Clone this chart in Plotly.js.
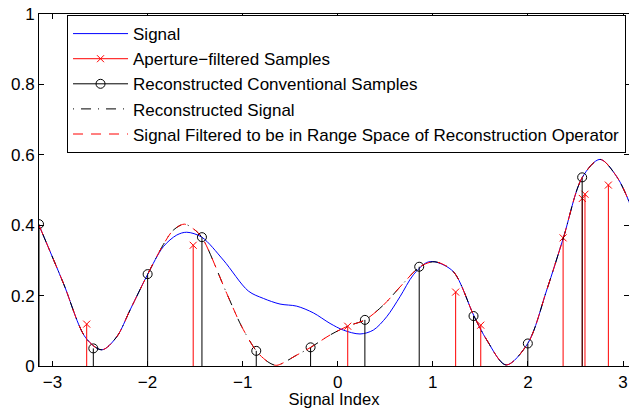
<!DOCTYPE html>
<html>
<head>
<meta charset="utf-8">
<script src="https://cdn.plot.ly/plotly-3.0.1.min.js"></script>
<style>html,body{margin:0;padding:0;background:#fff;}#chart{width:629px;height:408px;}</style>
</head>
<body>
<div id="chart"></div>
<script>
// Signal (blue)
var signalX = [-3.1416, -2.885, -2.65, -2.48, -2.324, -2.184, -2.0, -1.834, -1.693, -1.588, -1.43, -1.203, -0.94, -0.782, -0.607, -0.431, -0.257, -0.081, 0.059, 0.234, 0.374, 0.515, 0.655, 0.795, 0.936, 1.023, 1.216, 1.433, 1.567, 1.77, 1.998, 2.198, 2.372, 2.572, 2.758, 2.934, 3.063, 3.1416];
var signalY = [0.400, 0.235, 0.080, 0.046, 0.083, 0.159, 0.260, 0.339, 0.372, 0.380, 0.366, 0.301, 0.213, 0.192, 0.176, 0.170, 0.151, 0.121, 0.102, 0.091, 0.102, 0.140, 0.197, 0.259, 0.294, 0.296, 0.268, 0.142, 0.074, 0.003, 0.064, 0.216, 0.363, 0.536, 0.587, 0.538, 0.467, 0.400];

// Reconstructed signal (black dash-dot)
var reconX = [-3.1416, -2.885, -2.65, -2.48, -2.324, -2.184, -2.0, -1.834, -1.729, -1.614, -1.52, -1.43, -1.167, -1.01, -0.857, -0.782, -0.712, -0.641, -0.431, -0.284, -0.081, 0.112, 0.287, 0.48, 0.69, 0.865, 1.023, 1.216, 1.433, 1.567, 1.77, 1.998, 2.198, 2.372, 2.572, 2.758, 2.934, 3.063, 3.1416];
var reconY = [0.400, 0.235, 0.080, 0.046, 0.083, 0.159, 0.260, 0.345, 0.386, 0.403, 0.390, 0.366, 0.206, 0.112, 0.043, 0.022, 0.008, 0.002, 0.031, 0.053, 0.088, 0.114, 0.131, 0.173, 0.235, 0.282, 0.296, 0.268, 0.142, 0.074, 0.003, 0.064, 0.216, 0.363, 0.536, 0.587, 0.538, 0.467, 0.400];

// Signal filtered to range space (red dashed)
var filteredX = [-3.1416, -2.885, -2.65, -2.48, -2.324, -2.184, -2.0, -1.834, -1.729, -1.614, -1.52, -1.43, -1.167, -1.01, -0.857, -0.782, -0.712, -0.641, -0.431, -0.284, -0.081, 0.112, 0.287, 0.48, 0.69, 0.865, 1.023, 1.216, 1.433, 1.567, 1.77, 1.998, 2.198, 2.372, 2.572, 2.758, 2.934, 3.063, 3.1416];
var filteredY = [0.400, 0.235, 0.080, 0.046, 0.083, 0.159, 0.260, 0.345, 0.386, 0.403, 0.390, 0.366, 0.206, 0.112, 0.043, 0.022, 0.008, 0.002, 0.031, 0.053, 0.088, 0.114, 0.131, 0.173, 0.235, 0.282, 0.296, 0.268, 0.142, 0.074, 0.003, 0.064, 0.216, 0.363, 0.536, 0.587, 0.538, 0.467, 0.400];

// Aperture-filtered samples (red stems)
var apertureX = [-2.64, -1.52, 0.105, 1.24, 1.504, 2.37, 2.572, 2.60, 2.846];
var apertureY = [0.119, 0.343, 0.113, 0.210, 0.116, 0.364, 0.476, 0.488, 0.514];

// Reconstructed conventional samples (black stems)
var convX = [-3.1416, -2.5704, -1.9992, -1.4280, -0.8568, -0.2856, 0.2856, 0.8568, 1.4280, 1.9992, 2.5704];
var convY = [0.403, 0.050, 0.261, 0.366, 0.043, 0.053, 0.131, 0.282, 0.142, 0.064, 0.536];

// Tick labels
var xTicks = [-3, -2, -1, 0, 1, 2, 3];
var xTickText = ['\u22123', '\u22122', '\u22121', '0', '1', '2', '3'];
var yTicks = [0, 0.2, 0.4, 0.6, 0.8, 1];
var yTickText = ['0', '0.2', '0.4', '0.6', '0.8', '1'];

var FONT = 'Liberation Sans, Arial, Helvetica, sans-serif';

function separated(arr) {
  var out = [];
  for (var i = 0; i < arr.length; i++) { out.push(arr[i]); out.push(null); }
  return out;
}
function zerosLike(arr) {
  var out = [];
  for (var i = 0; i < arr.length; i++) { out.push(arr[i] === null ? null : 0); }
  return out;
}

var apY = separated(apertureY);
var cvY = separated(convY);

var traces = [
  {
    x: signalX, y: signalY, type: 'scatter', mode: 'lines', name: 'Signal',
    line: {color: '#0000ff', width: 1, shape: 'spline', smoothing: 0.9}
  },
  {
    x: separated(apertureX), y: apY, type: 'scatter', mode: 'lines+markers',
    name: 'Aperture\u2212filtered Samples', connectgaps: false,
    line: {color: '#ff0000', width: 1},
    marker: {symbol: 'x-thin-open', size: 7, color: '#ff0000', line: {color: '#ff0000', width: 1}},
    error_y: {type: 'data', symmetric: false, array: zerosLike(apY), arrayminus: apY, width: 0, thickness: 1, color: '#ff0000'}
  },
  {
    x: separated(convX), y: cvY, type: 'scatter', mode: 'lines+markers',
    name: 'Reconstructed Conventional Samples', connectgaps: false,
    line: {color: '#000000', width: 1},
    marker: {symbol: 'circle-open', size: 9, color: '#000000', line: {color: '#000000', width: 1}},
    error_y: {type: 'data', symmetric: false, array: zerosLike(cvY), arrayminus: cvY, width: 0, thickness: 1, color: '#000000'}
  },
  {
    x: reconX, y: reconY, type: 'scatter', mode: 'lines', name: 'Reconstructed Signal',
    line: {color: '#000000', width: 1, dash: '1px,7px,10px,7px', shape: 'spline', smoothing: 0.9}
  },
  {
    x: filteredX, y: filteredY, type: 'scatter', mode: 'lines',
    name: 'Signal Filtered to be in Range Space of Reconstruction Operator',
    line: {color: '#ff0000', width: 1, dash: '10px,8px', shape: 'spline', smoothing: 0.9}
  }
];

var axisCommon = {
  showline: true, linecolor: '#000', linewidth: 1, mirror: 'ticks',
  ticks: 'inside', ticklen: 5, tickwidth: 1, tickcolor: '#000',
  showgrid: false, zeroline: false,
  tickfont: {family: FONT, size: 17, color: '#000'}
};

var layout = {
  width: 629, height: 408,
  margin: {l: 39, r: 0, t: 14, b: 42, pad: 0},
  paper_bgcolor: '#fff', plot_bgcolor: '#fff',
  font: {family: FONT, size: 17, color: '#000'},
  showlegend: true,
  xaxis: Object.assign({}, axisCommon, {
    range: [-3.1416, 3.063], tickvals: xTicks, ticktext: xTickText, ticklabelstandoff: 1,
    title: {text: 'Signal Index', font: {family: FONT, size: 16.5, color: '#000'}}
  }),
  yaxis: Object.assign({}, axisCommon, {
    range: [0, 1], tickvals: yTicks, ticktext: yTickText
  }),
  legend: {
    x: 0.0475, y: 0.997, xanchor: 'left', yanchor: 'top',
    bgcolor: '#fff', bordercolor: '#000', borderwidth: 1,
    font: {family: FONT, size: 17, color: '#000'},
    itemwidth: 55, tracegroupgap: 0
  }
};

Plotly.newPlot('chart', traces, layout, {staticPlot: true, displayModeBar: false});
</script>
</body>
</html>
